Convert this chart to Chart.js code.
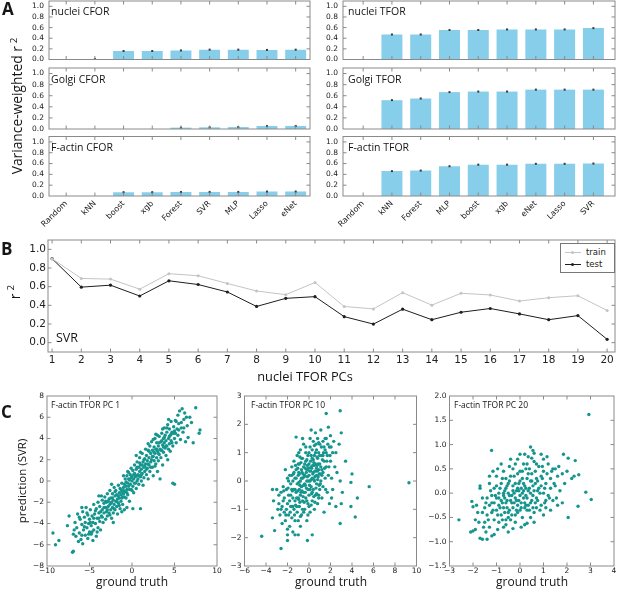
<!DOCTYPE html>
<html><head><meta charset="utf-8">
<script src="https://cdn.jsdelivr.net/npm/chart.js@4.4.0/dist/chart.umd.min.js"></script>
<style>
html,body{margin:0;padding:0;background:#fff;}
#wrap{position:relative;width:617px;height:592px;overflow:hidden;background:#fff;}
#wrap canvas{position:absolute;left:0;top:0;}
.t{position:absolute;white-space:nowrap;font-family:'Open Sans',sans-serif;color:#151515;line-height:1;}
.lg{position:absolute;border:1px solid #777;background:#fff;font-family:'DejaVu Sans',sans-serif;font-size:8.5px;color:#222;}
.lg .row{position:absolute;left:0;height:10px;}
.lg .ln{position:absolute;left:4px;width:16px;top:5px;height:0;border-top:1px solid;}
.lg .dt{position:absolute;left:10px;top:3.5px;width:3px;height:3px;border-radius:50%;}
.lg .tx{position:absolute;left:25px;top:0;line-height:10px;}
</style></head><body><div id="wrap"></div>
<script>
// ---------------- DATA ----------------
const cforModels = ['Random','kNN','boost','xgb','Forest','SVR','MLP','Lasso','eNet'];
const tforModels = ['Random','kNN','Forest','MLP','boost','xgb','eNet','Lasso','SVR'];
const nucleiCFOR = [0, 0.01, 0.16, 0.16, 0.17, 0.185, 0.185, 0.18, 0.185];
const golgiCFOR  = [0, 0, 0, 0, 0.025, 0.03, 0.035, 0.055, 0.055];
const factinCFOR = [0, 0, 0.07, 0.07, 0.075, 0.075, 0.075, 0.082, 0.082];
const nucleiTFOR = [0, 0.47, 0.47, 0.555, 0.555, 0.565, 0.565, 0.565, 0.59];
const golgiTFOR  = [0, 0.52, 0.55, 0.665, 0.675, 0.675, 0.71, 0.71, 0.71];
const factinTFOR = [0, 0.46, 0.47, 0.55, 0.58, 0.58, 0.595, 0.595, 0.60];
const barErr = 0.012;
const barTicksY = [0, 0.2, 0.4, 0.6, 0.8, 1.0];

const pcs   = [1,2,3,4,5,6,7,8,9,10,11,12,13,14,15,16,17,18,19,20];
const train = [0.90,0.688,0.681,0.573,0.739,0.717,0.634,0.554,0.514,0.645,0.388,0.362,0.536,0.402,0.529,0.511,0.446,0.482,0.503,0.345];
const test  = [0.90,0.595,0.616,0.500,0.663,0.623,0.543,0.388,0.475,0.493,0.279,0.199,0.359,0.246,0.326,0.366,0.308,0.246,0.290,0.036];
const lineTicksY = [0, 0.2, 0.4, 0.6, 0.8, 1.0];

const pc1Ticks  = {x:[-10,-5,0,5,10], y:[-8,-6,-4,-2,0,2,4,6,8]};
const pc10Ticks = {x:[-6,-4,-2,0,2,4,6,8,10], y:[-3,-2,-1,0,1,2,3]};
const pc20Ticks = {x:[-3,-2,-1,0,1,2,3,4], y:[-1.5,-1.0,-0.5,0.0,0.5,1.0,1.5,2.0]};

const pc1Points = [
[-9.3,-4.9],[-9.0,-6.0],[-8.6,-5.6],[-7.6,-4.2],[-7.4,-3.3],[-7.0,-6.7],[-6.9,-6.6],[-6.8,-4.6],[-6.7,-3.9],[-6.6,-5.2],
[-6.5,-4.4],[-6.4,-3.1],[-6.3,-5.7],[-6.2,-4.9],[-6.1,-3.6],[-6.0,-5.5],[-5.9,-4.1],[-5.8,-2.9],[-5.8,-5.9],[-5.7,-4.6],
[-5.6,-3.4],[-5.5,-5.1],[-5.5,-3.9],[-5.4,-2.5],[-5.3,-4.4],[-5.2,-5.4],[-5.2,-3.2],[-5.1,-4.0],[-5.0,-4.8],[-5.0,-3.6],
[-4.9,-2.7],[-4.8,-5.0],[-4.8,-4.2],[-4.7,-3.3],[-4.6,-5.6],[-4.6,-3.9],[-4.5,-2.2],[-4.5,-4.6],[-4.4,-3.1],[-4.3,-4.0],
[-4.2,-2.6],[-4.2,-5.2],[-4.1,-3.5],[-4.0,-4.4],[-4.0,-2.0],
[-3.9,-3.0],[-3.8,-3.8],[-3.8,-2.4],[-3.7,-4.6],[-3.6,-3.3],[-3.5,-1.8],[-3.5,-2.7],[-3.4,-3.9],[-3.3,-2.1],[-3.3,-3.0],
[-3.2,-1.5],[-3.1,-2.5],[-3.1,-3.6],[-3.0,-2.0],[-3.0,-2.9],[-2.9,-1.2],[-2.9,-3.3],[-2.8,-2.4],[-2.7,-1.7],[-2.7,-3.0],
[-2.6,-2.2],[-2.6,-0.9],[-2.5,-2.7],[-2.5,-1.6],[-2.4,-3.5],[-2.4,-2.0],[-2.3,-1.2],[-2.3,-2.5],[-2.2,-1.8],[-2.2,-3.0],
[-2.1,-0.6],[-2.1,-2.2],[-2.0,-1.4],[-2.0,-2.7],[-1.9,-1.9],[-1.9,-0.9],[-1.8,-2.4],[-1.8,-1.3],[-1.7,-3.1],[-1.7,-1.7],
[-1.6,-0.4],[-1.6,-2.1],[-1.5,-1.1],[-1.5,-1.6],[-1.4,-2.6],[-1.4,-0.7],[-1.3,-1.3],[-1.3,-1.9],[-1.2,-0.2],[-1.2,-1.0],
[-1.1,-2.2],[-1.1,-1.5],[-1.0,-0.6],[-1.0,-1.2],[-0.9,-2.7],[-0.9,-0.3],
[-0.8,-1.0],[-0.8,0.2],[-0.7,-1.6],[-0.7,-0.5],[-0.6,0.5],[-0.6,-0.8],[-0.5,-0.2],[-0.5,-1.3],[-0.4,0.8],[-0.4,-0.5],
[-0.3,0.1],[-0.3,-1.9],[-0.2,-0.3],[-0.2,0.6],[-0.1,-0.8],[-0.1,1.2],[0.0,0.0],[0.0,0.4],[0.1,-0.5],[0.1,1.0],
[0.2,0.2],[0.2,-1.1],[0.3,0.7],[0.3,1.5],[0.4,-0.2],[0.4,0.4],[0.5,1.1],[0.5,-0.7],[0.6,0.0],[0.6,1.8],
[0.7,0.6],[0.7,0.2],[0.8,1.3],[0.8,-0.3],[0.9,0.9],[0.9,2.2],[1.0,0.4],[1.0,1.5],[1.1,0.0],[1.1,1.1],
[1.2,2.6],[1.2,0.7],[1.3,1.8],[1.3,-0.4],[1.4,1.3],[1.4,0.3],[1.5,2.1],[1.5,0.9],[1.6,1.6],[1.6,3.0],
[1.7,0.6],[1.7,2.4],[1.8,1.2],[1.8,1.9],[1.9,2.9],[1.9,0.2],[0.1,-2.6],[-0.6,-2.5],[1.0,-2.6],[-1.2,-2.9],
[2.0,2.2],[2.0,1.5],[2.1,3.3],[2.1,0.9],[2.2,2.6],[2.2,1.8],[2.3,2.0],[2.3,3.7],[2.4,1.3],[2.4,2.9],
[2.5,2.3],[2.5,0.5],[2.6,3.2],[2.6,1.9],[2.7,2.6],[2.7,4.0],[2.8,1.6],[2.8,3.0],[2.9,2.2],[2.9,3.6],
[3.0,2.8],[3.0,0.9],[3.1,3.3],[3.1,1.9],[3.2,4.2],[3.2,2.5],[3.3,3.0],[3.3,0.2],[3.4,3.7],[3.4,2.2],
[3.5,4.5],[3.5,2.9],[3.6,3.4],[3.6,1.5],[3.7,4.0],[3.7,2.7],[3.8,3.6],[3.8,5.0],[3.9,3.1],[3.9,4.3],
[4.0,2.4],[4.0,3.8],[4.1,4.6],[4.1,3.3],[4.2,5.3],[4.2,2.0],[4.3,4.0],[4.4,3.5],[4.4,4.9],[4.5,2.8],
[4.5,4.3],[4.6,5.6],[4.6,3.8],[4.7,4.6],[4.8,-0.2],[4.8,3.3],[4.9,5.1],[5.0,-0.3],[5.0,4.0],[5.0,4.7],
[5.1,5.7],[5.2,3.6],[5.3,4.9],[5.4,6.2],[5.4,4.3],[5.5,5.4],[5.6,6.6],[5.7,3.9],[5.8,5.0],[5.9,6.8],
[6.0,4.6],[6.1,5.8],[6.2,6.4],[6.3,3.7],[6.5,5.2],[6.6,4.1],[6.8,6.0],[7.0,5.5],[7.2,3.6],[7.5,6.9],
[7.9,4.5],[8.0,4.8],[3.0,4.3],[2.5,3.9],[-3.9,-1.4],[-5.9,-2.5],[-6.9,-5.0],[-2.2,-3.9],[-0.5,0.9],[0.5,2.4],
[-6.2,-3.4],[-5.9,-5.1],[-5.6,-4.3],[-5.3,-3.0],[-5.1,-5.0],[-4.9,-3.9],[-4.7,-4.8],[-4.5,-3.5],[-4.3,-2.8],[-4.1,-4.8],
[-3.9,-3.5],[-3.7,-2.9],[-3.5,-3.4],[-3.3,-2.5],[-3.1,-1.9],[-2.9,-2.7],[-2.8,-1.9],[-2.6,-3.2],[-2.5,-2.1],[-2.3,-1.6],
[-2.1,-2.6],[-2.0,-1.0],[-1.8,-1.9],[-1.6,-1.4],[-1.5,-2.3],[-1.3,-0.8],[-1.2,-1.6],[-1.0,-0.9],[-0.9,-1.5],[-0.7,-0.1],
[-0.6,-1.1],[-0.4,0.2],[-0.3,-0.8],[-0.1,0.3],[0.0,-0.9],[0.2,0.6],[0.3,-0.2],[0.5,0.5],[0.6,1.3],[0.8,0.5],
[0.9,1.7],[1.1,0.6],[1.2,1.5],[1.4,2.0],[1.5,1.4],[1.7,1.1],[1.9,1.6],[2.0,2.8],[2.2,1.3],[2.4,2.3],
[2.6,2.7],[2.7,1.4],[2.9,3.0],[3.1,2.6],[3.2,3.6],[3.4,2.9],[3.5,3.8],[3.7,3.2],[3.8,4.1],[4.0,3.3],
[4.1,5.0],[4.3,3.0],[4.4,4.2],[4.6,4.4],[4.7,3.6],[4.9,4.5],[5.1,4.5],[5.2,5.6],[5.5,4.8],[5.8,5.5],
[6.1,5.0],[6.4,6.0],[4.3,5.8],[3.6,4.9],[2.8,4.4],[1.9,3.5],[1.0,2.7],[-1.0,0.5],[-2.4,-0.3],[-3.6,-1.4]
];

const pc10Points = [
[-4.4,-1.95],[9.3,-0.06],[5.6,-0.2],[4.3,-1.27],[4.5,-0.6],[2.9,-1.5],[2.9,2.48],[1.6,2.38],[3.9,-0.05],[4.0,0.25],
[3.4,0.7],[3.9,-0.9],[3.0,-0.8],[-3.4,-0.3],[-3.3,-0.7],[-3.4,-1.3],[-3.2,-1.75],[-3.0,-0.3],[-2.8,-0.5],[-2.6,-2.38],
[-2.0,-2.1],[-0.15,-2.1],[0.3,-1.9],[-1.0,-1.9],[-0.8,-1.6],[-2.0,-1.7],[-2.0,-1.9],[-1.3,-1.9],
[-2.9,-1.0],[-2.8,-0.8],[-2.7,-1.2],[-2.6,-0.4],[-2.5,-1.5],[-2.5,-0.9],[-2.4,-0.2],[-2.3,-1.1],[-2.3,-0.6],[-2.2,0.4],
[-2.2,-1.4],[-2.1,-0.3],[-2.0,-0.8],[-2.0,0.1],[-1.9,-1.2],[-1.9,-0.5],[-1.8,0.2],[-1.8,-1.6],[-1.7,-0.9],[-1.7,-0.1],
[-1.6,-1.3],[-1.6,0.5],[-1.5,-0.6],[-1.5,-1.8],
[-1.4,-0.3],[-1.4,-1.0],[-1.4,0.7],[-1.3,-0.7],[-1.3,0.1],[-1.3,-1.4],[-1.2,1.55],[-1.2,-0.4],[-1.2,0.4],[-1.1,-1.1],
[-1.1,-0.1],[-1.1,0.9],[-1.0,-0.6],[-1.0,0.2],[-1.0,-1.4],[-0.9,0.6],[-0.9,-0.3],[-0.9,-0.9],[-0.8,0.0],[-0.8,1.1],
[-0.8,-0.5],[-0.7,0.4],[-0.7,-1.2],[-0.7,-0.2],[-0.6,0.8],[-0.6,-0.7],[-0.6,0.1],[-0.5,-0.4],[-0.5,1.3],[-0.5,0.5],
[-0.4,-1.0],[-0.4,0.2],[-0.4,-0.1],[-0.3,0.7],[-0.3,-0.6],[-0.3,1.0],[-0.2,0.0],[-0.2,-1.4],[-0.2,0.4],[-0.1,-0.3],
[-0.1,0.9],[-0.1,-0.8],[0.0,0.2],[0.0,0.6],[0.0,-0.5],
[0.1,1.2],[0.1,0.0],[0.1,-1.1],[0.2,0.5],[0.2,-0.2],[0.2,1.8],[0.3,0.8],[0.3,0.1],[0.3,-0.7],[0.4,1.4],
[0.4,0.3],[0.4,-0.3],[0.5,0.9],[0.5,-1.0],[0.5,0.0],[0.6,0.6],[0.6,1.7],[0.6,-0.5],[0.7,0.2],[0.7,1.1],
[0.7,-0.1],[0.8,0.8],[0.8,1.5],[0.8,-0.8],[0.9,0.4],[0.9,1.0],[1.0,-0.3],[1.0,1.3],[1.0,0.6],[1.1,0.0],
[1.1,1.8],[1.2,0.9],[1.2,-0.6],[1.3,0.3],[1.3,1.4],[1.4,0.7],[1.4,-1.1],[1.5,1.1],[1.5,0.1],
[1.6,0.5],[1.6,1.5],[1.7,-0.4],[1.7,0.9],[1.8,1.9],[1.8,0.2],[1.9,1.2],[1.9,-0.8],[2.0,0.7],[2.0,1.6],
[2.1,0.1],[2.2,1.0],[2.2,-0.3],[2.3,1.4],[2.4,0.5],[2.5,-0.9],[2.5,1.0],[2.6,0.3],[2.8,1.3],[2.9,0.0],
[3.0,1.7],[3.1,-0.4],
[-0.95,0.3],[-0.85,-0.15],[-0.75,0.65],[-0.65,-0.35],[-0.55,0.25],[-0.45,-0.75],[-0.35,0.45],[-0.25,-0.25],[-0.15,0.15],[-0.05,0.45],
[0.05,-0.15],[0.15,0.35],[0.25,-0.45],[0.35,0.55],[0.45,0.05],[0.55,0.35],[0.65,-0.25],[0.75,0.55],[0.85,0.15],[0.95,-0.15],
[-1.25,-0.85],[-1.05,-0.35],[-0.85,0.85],[-0.6,-1.0],[-0.35,-0.4],[0.0,-0.9],[0.3,1.1],[0.55,-0.75],[0.8,0.35],[1.05,0.25],
[-1.6,-0.3],[-1.45,0.25],[-1.25,0.55],[-0.95,-0.65],[-0.7,0.1],[-0.5,-0.15],[-0.2,0.75],[0.2,0.9],[0.45,0.65],[0.65,1.3],
[-1.8,-0.7],[-2.1,-1.0],[-1.5,-0.9],[-0.1,-1.2],[0.9,-0.5],[1.2,0.4],[1.4,1.2],[1.6,1.0],[-2.4,-0.7],[-1.0,0.6],
[-1.9,0.0],[-1.7,-0.5],[-1.6,-0.9],[-1.5,0.0],[-1.4,0.3],[-1.3,-0.3],[-1.2,0.1],[-1.15,-0.6],[-1.05,0.45],[-0.95,-0.05],
[-0.9,0.25],[-0.85,-0.75],[-0.75,-0.4],[-0.7,0.8],[-0.65,0.3],[-0.55,-0.55],[-0.45,0.15],[-0.4,0.6],[-0.35,-0.15],[-0.25,0.3],
[-0.2,-0.7],[-0.15,0.55],[-0.05,0.0],[0.0,1.0],[0.05,0.35],[0.1,-0.3],[0.15,0.7],[0.2,0.05],[0.25,0.45],[0.3,-0.4],
[0.35,0.25],[0.4,0.75],[0.45,-0.55],[0.5,0.55],[0.55,0.15],[0.6,1.0],[0.65,0.35],[0.7,-0.45],[0.75,0.85],[0.8,0.05],
[0.85,0.6],[0.9,1.35],[0.95,0.25],[1.0,0.9],[1.05,-0.1],[1.1,0.5],[1.15,1.2],[1.2,0.2],[1.25,0.75],[1.3,-0.2],
[1.35,1.0],[1.45,0.45],[1.5,1.5],[1.55,-0.3],[1.65,0.7],[1.75,1.3],[1.85,0.5],[1.95,0.9],[2.05,1.2],[2.1,-0.6],
[-2.6,-1.0],[-2.35,-0.35],[-2.15,-1.2],[-1.95,-0.25],[-1.75,-1.1],[-1.55,-0.35],[-1.35,-1.2],[-1.15,-0.9],[-0.95,1.0],[-0.6,1.5],
[-0.3,1.2],[0.1,1.5],[0.5,1.25],[0.9,-0.6],[1.3,0.9],[-0.5,-1.1],[-0.8,-1.25],[-1.6,0.2],[0.2,-0.85],[0.7,0.45]
];

const pc20Points = [
[2.93,1.62],[-2.6,-0.55],[3.03,-0.13],[2.8,0.02],[2.05,-0.5],[2.47,-0.27],[-1.21,0.88],[0.45,0.95],[1.85,0.8],[2.05,0.72],
[2.35,0.67],[2.5,0.38],[2.3,0.35],[2.2,0.3],[-1.7,-0.93],[-1.6,-0.95],[-1.2,-0.88],[-1.1,-0.85],[-2.0,-0.78],[-1.9,-0.75],
[-2.05,-0.17],[-2.0,-0.28],[-1.7,0.15],[-1.7,0.1],[0.0,0.8],[0.2,0.8],[0.55,0.88],[0.6,0.82],[0.5,0.72],[-0.5,-0.8],
[-0.3,-0.73],[0.05,-0.7],[0.2,-0.65],[0.3,-0.62],[1.0,0.7],[1.5,0.5],[-0.6,-0.55],[1.8,-0.2],[1.6,-0.25],
[-1.5,-0.3],[-1.5,-0.6],[-1.4,-0.1],[-1.4,-0.45],[-1.3,0.2],[-1.3,-0.25],[-1.3,-0.7],[-1.2,-0.05],[-1.2,-0.4],[-1.1,0.1],
[-1.1,-0.2],[-1.1,-0.55],[-1.0,0.35],[-1.0,-0.1],[-1.0,-0.35],[-0.9,0.0],[-0.9,-0.6],[-0.9,-0.25],[-0.8,0.2],[-0.8,-0.15],
[-0.8,-0.45],[-0.7,0.45],[-0.7,-0.05],[-0.7,-0.3],[-0.6,0.1],[-0.6,-0.2],[-0.6,0.3],[-0.5,-0.4],[-0.5,0.0],[-0.5,0.2],
[-0.4,-0.15],[-0.4,-0.55],[-0.4,0.35],[-0.3,0.05],[-0.3,-0.3],[-0.3,0.5],[-0.2,-0.1],[-0.2,0.2],[-0.2,-0.45],[-0.1,0.1],
[-0.1,-0.25],[-0.1,0.4],[0.0,-0.05],[0.0,-0.35],[0.0,0.25],[0.1,0.0],[0.1,-0.5],[0.1,0.45],[0.2,-0.2],[0.2,0.15],
[0.3,0.3],[0.3,-0.1],[0.3,0.6],[0.4,-0.35],[0.4,0.1],[0.5,0.4],[0.5,-0.15],[0.6,0.05],[0.6,-0.4],[0.7,0.3],
[0.7,-0.1],[0.8,0.55],[0.8,0.1],[0.9,-0.25],[0.9,0.35],[1.0,0.0],[1.0,0.45],[1.1,-0.3],[1.1,0.2],[1.2,0.6],
[1.2,-0.05],[1.3,0.3],[1.4,-0.15],[1.4,0.5],[1.5,0.15],[1.6,0.35],[1.7,0.05],[1.8,0.4],
[-0.75,-0.2],[-0.65,-0.1],[-0.55,-0.3],[-0.45,-0.05],[-0.35,-0.2],[-0.25,0.0],[-0.15,-0.15],[-0.05,0.05],[0.05,-0.2],[0.15,0.05],
[0.25,-0.05],[0.35,-0.25],[0.45,0.0],[0.55,0.15],[0.65,-0.2],[0.75,0.05],[-0.7,0.0],[-0.5,-0.5],[-0.3,0.15],[-0.1,-0.4],
[0.1,0.3],[0.3,-0.35],[0.5,0.25],[0.7,-0.3],[-0.9,-0.1],[-1.0,0.15],[-1.2,-0.2],[-0.6,-0.65],[0.2,-0.3],[0.4,0.5],
[0.6,0.65],[0.9,0.15],[1.1,-0.15],[1.3,0.1],[-0.2,0.6],[-0.45,0.55],[0.0,0.45],[-1.6,-0.1],[-1.8,-0.4],[-1.9,-0.55],
[-1.45,-0.2],[-1.35,-0.55],[-1.25,0.05],[-1.15,-0.35],[-1.05,-0.05],[-0.95,-0.45],[-0.85,0.1],[-0.85,-0.3],[-0.75,-0.55],[-0.75,0.3],
[-0.65,0.05],[-0.65,-0.4],[-0.55,0.15],[-0.55,-0.15],[-0.45,-0.35],[-0.45,0.25],[-0.35,-0.05],[-0.35,-0.45],[-0.25,0.35],[-0.25,-0.2],
[-0.15,0.05],[-0.15,-0.35],[-0.05,0.2],[-0.05,-0.15],[0.05,0.1],[0.05,-0.3],[0.15,-0.1],[0.15,0.2],[0.25,0.1],[0.25,-0.25],
[0.35,0.05],[0.35,0.4],[0.45,-0.2],[0.45,0.25],[0.55,-0.05],[0.55,-0.3],[0.65,0.2],[0.65,0.45],[0.75,-0.15],[0.75,0.25],
[0.85,0.0],[0.85,-0.35],[0.95,0.3],[0.95,0.55],[1.05,0.1],[1.05,-0.2],[1.15,0.4],[1.25,-0.1],[1.35,0.45],[1.45,0.2],
[-1.6,-0.4],[-1.55,-0.7],[-1.45,-0.8],[-1.3,0.35],[-1.15,0.45],[-0.95,0.5],[-0.8,0.6],[-0.4,0.7],[0.15,0.6],[0.35,0.75],
[0.7,0.6],[1.15,0.75],[1.55,-0.1],[1.65,0.55],[1.9,0.2],[2.0,0.45],[-2.1,-0.8],[-1.85,-0.25],[-0.2,-0.6],[0.45,-0.5],
[-0.95,-0.75],[-0.7,-0.7],[0.6,-0.6],[1.0,-0.45],[1.3,-0.35],[-1.75,-0.6],[-1.4,-0.95],[0.9,0.8],[0.25,0.5],[-0.1,0.7]
];

// ---------------- RENDER ----------------
const W = 617, H = 592, YW = 30;
const wrap = document.getElementById('wrap');
Chart.defaults.font.family = "'DejaVu Sans', sans-serif";
Chart.defaults.color = '#222';

const minus = v => (v < 0 ? '\u2212' + Math.abs(v) : String(v));
const fmt1 = v => (v < 0 ? '\u2212' + Math.abs(v).toFixed(1) : v.toFixed(1));
const setTicks = arr => (s => { s.ticks = arr.map(v => ({value: v})); });

const framePlugin = {
  id: 'frame',
  afterDraw(chart) {
    const {ctx, chartArea: a, scales} = chart;
    ctx.save();
    ctx.strokeStyle = '#8a8a8a'; ctx.lineWidth = 1;
    ctx.strokeRect(a.left, a.top, a.right - a.left, a.bottom - a.top);
    const L = 3.5;
    ctx.beginPath();
    scales.x.ticks.forEach(t => {
      const p = scales.x.getPixelForValue(t.value);
      if (p < a.left + 1 || p > a.right - 1) return;
      ctx.moveTo(p, a.bottom); ctx.lineTo(p, a.bottom - L);
      ctx.moveTo(p, a.top); ctx.lineTo(p, a.top + L);
    });
    scales.y.ticks.forEach(t => {
      const p = scales.y.getPixelForValue(t.value);
      if (p < a.top + 1 || p > a.bottom - 1) return;
      ctx.moveTo(a.left, p); ctx.lineTo(a.left + L, p);
      ctx.moveTo(a.right, p); ctx.lineTo(a.right - L, p);
    });
    ctx.stroke();
    ctx.restore();
  }
};

const errPlugin = {
  id: 'err',
  afterDatasetsDraw(chart) {
    const ctx = chart.ctx, ys = chart.scales.y;
    const meta = chart.getDatasetMeta(0), ds = chart.data.datasets[0];
    ctx.save();
    ctx.strokeStyle = '#3d3d3d'; ctx.fillStyle = '#3d3d3d'; ctx.lineWidth = 1;
    ds.data.forEach((d, i) => {
      if (!(d.y > 0)) return;
      const x = meta.data[i].x;
      ctx.beginPath();
      ctx.moveTo(x, ys.getPixelForValue(d.y + barErr));
      ctx.lineTo(x, ys.getPixelForValue(d.y - barErr));
      ctx.stroke();
      ctx.fillRect(x - 1, ys.getPixelForValue(d.y) - 1, 2, 2);
    });
    ctx.restore();
  }
};

function build(box, type, datasets, xOpt, yOpt, extraPlugins) {
  const c = document.createElement('canvas');
  c.width = W; c.height = H; c.style.width = W + 'px'; c.style.height = H + 'px';
  wrap.appendChild(c);
  const XH = box.xh;
  const base = {
    offset: false, grid: {display: false, drawTicks: false, tickLength: 0}, border: {display: false}
  };
  const x = Object.assign({type: 'linear', position: 'bottom'}, base, xOpt, {
    afterFit(s) { s.height = XH; s.paddingLeft = 0; s.paddingRight = 0; s.paddingTop = 0; s.paddingBottom = 0; }
  });
  const y = Object.assign({type: 'linear', position: 'left'}, base, yOpt, {
    afterFit(s) { s.width = YW; s.paddingLeft = 0; s.paddingRight = 0; s.paddingTop = 0; s.paddingBottom = 0; }
  });
  return new Chart(c, {
    type,
    data: {datasets},
    options: {
      responsive: false, animation: false, devicePixelRatio: 1,
      layout: {autoPadding: false, padding: {left: box.l - YW, top: box.t, right: W - box.r, bottom: H - box.b - XH}},
      plugins: {legend: {display: false}, tooltip: {enabled: false}},
      scales: {x, y}
    },
    plugins: [framePlugin].concat(extraPlugins || [])
  });
}

function barPanel(box, vals, labels, showLabels, xmin, xmax) {
  build(box, 'bar', [{
    data: vals.map((v, i) => ({x: i, y: v})),
    backgroundColor: '#87ceeb', borderWidth: 0,
    barPercentage: 0.73, categoryPercentage: 1
  }], {
    min: xmin, max: xmax,
    afterBuildTicks: setTicks(labels.map((l, i) => i)),
    ticks: {display: showLabels, autoSkip: false, minRotation: 45, maxRotation: 45, padding: 3,
            font: {size: 8}, color: '#222', callback: v => labels[v]}
  }, {
    min: 0, max: 1.1,
    afterBuildTicks: setTicks(barTicksY),
    ticks: {padding: 5, autoSkip: false, font: {size: 7.5}, color: '#222', callback: v => v.toFixed(1)}
  }, [errPlugin]);
}

// Panel A
const rowsA = [{t: 1, b: 59.5}, {t: 68, b: 129}, {t: 136.5, b: 196}];
const leftA = {l: 49, r: 310}, rightA = {l: 343, r: 615};
const leftVals = [nucleiCFOR, golgiCFOR, factinCFOR];
const rightVals = [nucleiTFOR, golgiTFOR, factinTFOR];
rowsA.forEach((row, k) => {
  const xh = k === 2 ? 40 : 16;
  barPanel({l: leftA.l, r: leftA.r, t: row.t, b: row.b, xh}, leftVals[k], cforModels, k === 2, -0.6, 8.5);
  barPanel({l: rightA.l, r: rightA.r, t: row.t, b: row.b, xh}, rightVals[k], tforModels, k === 2, -0.7, 8.75);
});

// Panel B
build({l: 48, r: 615, t: 240, b: 352, xh: 22}, 'line', [
  {data: pcs.map((p, i) => ({x: p, y: train[i]})), borderColor: '#c4c4c4', backgroundColor: '#c4c4c4',
   borderWidth: 1, pointRadius: 1.5, pointBorderWidth: 0, tension: 0},
  {data: pcs.map((p, i) => ({x: p, y: test[i]})), borderColor: '#1e1e1e', backgroundColor: '#1e1e1e',
   borderWidth: 1, pointRadius: 1.6, pointBorderWidth: 0, tension: 0}
], {
  min: 0.86, max: 20.27, afterBuildTicks: setTicks(pcs),
  ticks: {padding: 2, font: {size: 10.5}, color: '#222', autoSkip: false, maxRotation: 0, callback: v => String(v)}
}, {
  min: -0.1, max: 1.1, afterBuildTicks: setTicks(lineTicksY),
  ticks: {padding: 2, autoSkip: false, font: {size: 10.5}, color: '#222', callback: v => v.toFixed(1)}
});

// Panel C
function scatterPanel(box, pts, ticks, xr, yr, yfmt) {
  build(box, 'scatter', [{
    data: pts.map(p => ({x: p[0], y: p[1]})),
    backgroundColor: '#16958f', borderWidth: 0, pointRadius: 1.7
  }], {
    min: xr[0], max: xr[1], afterBuildTicks: setTicks(ticks.x),
    ticks: {padding: 1, font: {size: 7.5}, color: '#222', autoSkip: false, maxRotation: 0, callback: v => minus(v)}
  }, {
    min: yr[0], max: yr[1], afterBuildTicks: setTicks(ticks.y),
    ticks: {padding: 3, autoSkip: false, font: {size: 7.5}, color: '#222', callback: yfmt}
  });
}
scatterPanel({l: 47, r: 217, t: 396, b: 566, xh: 24}, pc1Points, pc1Ticks, [-10, 10], [-8, 8], v => minus(v));
scatterPanel({l: 244.5, r: 416.5, t: 396, b: 566, xh: 24}, pc10Points, pc10Ticks, [-6, 10], [-3, 3], v => minus(v));
scatterPanel({l: 449.5, r: 614, t: 396, b: 566, xh: 24}, pc20Points, pc20Ticks, [-3, 4], [-1.5, 2], fmt1);

// ---------------- TEXT ----------------
function text(str, x, baseline, size, opt) {
  opt = opt || {};
  const d = document.createElement('div');
  d.className = 't';
  d.innerHTML = str;
  d.style.fontSize = size + 'px';
  if (opt.weight) d.style.fontWeight = opt.weight;
  d.style.top = (baseline - 0.888 * size) + 'px';
  d.style.left = x + 'px';
  if (opt.center) d.style.transform = 'translateX(-50%)';
  wrap.appendChild(d);
}
function vtext(str, cx, cy, size) {
  const d = document.createElement('div');
  d.className = 't';
  d.innerHTML = str;
  d.style.fontSize = size + 'px';
  d.style.left = cx + 'px'; d.style.top = cy + 'px';
  d.style.transform = 'translate(-50%,-50%) rotate(-90deg)';
  wrap.appendChild(d);
}
text('A', 2, 15, 17, {weight: 700});
text('B', 1, 255.5, 17, {weight: 700});
text('C', 1, 418, 17, {weight: 700});

text('nuclei CFOR', 51, 15, 10.5);
text('Golgi CFOR', 51, 83, 10.5);
text('F-actin CFOR', 51, 151.5, 10.5);
text('nuclei TFOR', 348, 15, 10.5);
text('Golgi TFOR', 348, 83, 10.5);
text('F-actin TFOR', 348, 151.5, 10.5);
vtext('Variance-weighted r<sup style="font-size:0.7em;vertical-align:0.5em;margin-left:3px">2</sup>', 16, 106, 13.8);

text('SVR', 56, 343, 12.5);
text('nuclei TFOR PCs', 305, 381.5, 12.8, {center: true});
vtext('r<sup style="font-size:0.7em;vertical-align:0.6em;margin-left:3px">2</sup>', 14, 292, 14);

text('F-actin TFOR PC 1', 51, 408.5, 8.5);
text('F-actin TFOR PC 10', 251, 408.5, 8.5);
text('F-actin TFOR PC 20', 454, 408.5, 8.5);
text('ground truth', 132, 587, 12, {center: true});
text('ground truth', 331, 587, 12, {center: true});
text('ground truth', 532, 587, 12, {center: true});
vtext('prediction (SVR)', 22, 481, 11.5);

// legend for panel B
const lg = document.createElement('div');
lg.className = 'lg';
lg.style.left = '560px'; lg.style.top = '243px'; lg.style.width = '53px'; lg.style.height = '28px';
lg.innerHTML =
  '<div class="row" style="top:3px;width:53px"><div class="ln" style="border-color:#c4c4c4"></div><div class="dt" style="background:#c4c4c4"></div><div class="tx">train</div></div>' +
  '<div class="row" style="top:15px;width:53px"><div class="ln" style="border-color:#1e1e1e"></div><div class="dt" style="background:#1e1e1e"></div><div class="tx">test</div></div>';
wrap.appendChild(lg);
</script>
</body></html>
